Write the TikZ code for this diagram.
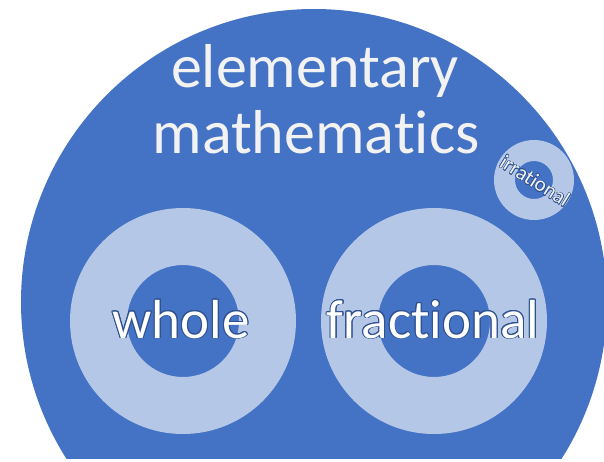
\documentclass[tikz,border=0pt]{standalone}
\usepackage{fontspec}
\setmainfont[Ligatures={NoCommon,NoContextual}]{Carlito}
\usepackage{contour}
\usetikzlibrary{positioning}
\definecolor{domeblue}{RGB}{68,114,196}
\definecolor{ringblue}{RGB}{180,199,231}
\definecolor{textwhite}{RGB}{242,242,242}
\definecolor{edgeblue}{RGB}{47,82,143}

\begin{document}
\begin{tikzpicture}[x=1pt, y=-1pt,
    title/.style={text=textwhite, font=\fontsize{62}{66}\selectfont, anchor=base, inner sep=0pt},
    setname/.style={text=white, font=\fontsize{55}{60}\selectfont, anchor=base, inner sep=0pt}]
  \useasboundingbox (0,0) rectangle (604,461);
  % the dome, cut off at the bottom
  \begin{scope}
    \clip (0,0) rectangle (604,458);
    \fill[domeblue] (314,302) circle (293);
  \end{scope}
  % rings
  \foreach \n/\x/\y/\ro/\ri in {whole/183/321/113/56, frac/434/321/113/56, irr/534/180/40/19} {
    \coordinate (c\n) at (\x,\y);
    \fill[ringblue, even odd rule] (c\n) circle (\ro) (c\n) circle (\ri);
  }
  \node[title] (elem) at (315,87) {elementary};
  \node[title] (math) at (316,153) {mathematics};
  \contourlength{0.9pt}
  \node[setname] (whole) at (181,338) {\contour{edgeblue}{whole}};
  \node[setname] (frac) at (433,338) {\contour{edgeblue}{fractional}};
  \node[rotate=-32, text=textwhite, font=\fontsize{21}{24}\selectfont, inner sep=0pt]
    (irr) at (535,181) {\contourlength{0.5pt}\contour{edgeblue}{irrational}};
\end{tikzpicture}
\end{document}
